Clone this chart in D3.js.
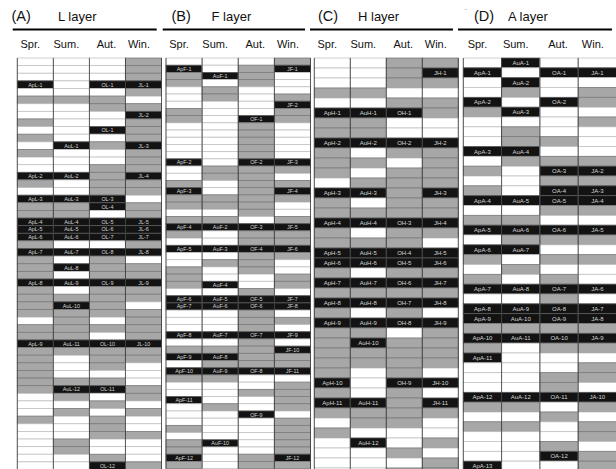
<!DOCTYPE html>
<html><head><meta charset="utf-8">
<script src="https://cdn.jsdelivr.net/npm/d3@7"></script>
<style>body{margin:0;background:#fff}svg{display:block;font-family:"Liberation Sans",Arial,sans-serif}</style>
</head><body><svg id="c" width="616" height="469"></svg>
<script>
// ---------------- data ----------------
const panelTags = ["(A)", "(B)", "(C)", "(D)"];
const panelTitles = ["L layer", "F layer", "H layer", "A layer"];
const seasons = ["Spr.", "Sum.", "Aut.", "Win."];

// cell state per season column, top row first: W = white, G = grey, B = black (labelled)
const cellsL = [
  "WWWBWGWWGW" + "GWGWWBGWBG" + "GBBBGBGGGB" + "GGGGWGGBGG" + "GGGGWWWGWW" + "WWWW",
  "WWWWWGWWWW" + "WBWWWBWWBG" + "GBBBWBWBWB" + "WGBGGGGBGW" + "WWGBGWGWWW" + "GGWW",
  "WWWBWGGWWB" + "WGWWGGGGBB" + "WBBBWBGGGB" + "GGGGWGWBGG" + "GWGBWGWGGG" + "WWGB",
  "GGGBGWGBGG" + "GBGGGBGGWG" + "GBBBGBWGGB" + "GGWGGGGBGG" + "WWWGGWGWWG" + "WWWG"
];
const cellsF = [
  "WBGGWWWGGW" + "WWWWBWWGBG" + "GWGBGWBWWG" + "GGWBBWWWBW" + "GBWBGWWBWW" + "WGWGGBG",
  "WWBWGGWWWW" + "WWWWWGGWWG" + "GWGBWWBWGW" + "WBWBBWWWBW" + "GBGBGWWWGW" + "WWWBWWW",
  "WGGGWWWWBG" + "GGGGBGGGGG" + "GGWBGGBGGG" + "WWGBBGGGBG" + "GGGBWWGWWB" + "WWWWWGG",
  "GBWWWGBGGW" + "WWWWBGWGBG" + "WWGBGGBGWW" + "GGWBBWGWBW" + "BGGBWGGGGW" + "GGGGGBG"
];
const cellsH = [
  "WWWGWBGGBG" + "GGWBGGBGGB" + "BGBGBGBGGG" + "GGBGBGWGWW" + "WW",
  "WWWGWBGGBW" + "GWGBWGBWGB" + "BWBGBWBGBG" + "GWWWBGGWBW" + "WW",
  "GGGWGBWWBG" + "WGGGGGBGGB" + "BGBGBGBWGG" + "GGBGGGGWWG" + "WG",
  "GBGWGGWWBG" + "GGGBGGBGWB" + "BGBGBWBGGG" + "GWBWBGWWGW" + "GG"
];
const cellsA = [
  "WBWWBGWWWB" + "WGWGBWGBWB" + "GWGBWBBGBG" + "BWWWBGWGWW" + "WB",
  "BWBGWBWGGB" + "GWWWBWGBGB" + "WGWBWBBGBW" + "WWWWBGWGWW" + "WW",
  "WBWWBWWWGW" + "GBGBBGWBGW" + "GWGBGBBGBG" + "WWGGBWGWWG" + "BW",
  "WBWGGWGWWW" + "GBGBBGWBGW" + "GWWBWBBGBG" + "WGGWBGWGGW" + "GG"
];

// labels of the black cells, in column order top to bottom
const labelsL = [
  "ApL-1 ApL-2 ApL-3 ApL-4 ApL-5 ApL-6 ApL-7 ApL-8 ApL-9",
  "AuL-1 AuL-2 AuL-3 AuL-4 AuL-5 AuL-6 AuL-7 AuL-8 AuL-9 AuL-10 AuL-11 AuL-12",
  "OL-1 OL-1 OL-3 OL-4 OL-5 OL-6 OL-7 OL-8 OL-9 OL-10 OL-11 OL-12",
  "JL-1 JL-2 JL-3 JL-4 JL-5 JL-6 JL-7 JL-8 JL-9 JL-10"
];
const labelsF = [
  "ApF-1 ApF-2 ApF-3 ApF-4 ApF-5 ApF-6 ApF-7 ApF-8 ApF-9 ApF-10 ApF-11 ApF-12",
  "AuF-1 AuF-2 AuF-3 AuF-4 AuF-5 AuF-6 AuF-7 AuF-8 AuF-9 AuF-10",
  "OF-1 OF-2 OF-3 OF-4 OF-5 OF-6 OF-7 OF-8 OF-9",
  "JF-1 JF-2 JF-3 JF-4 JF-5 JF-6 JF-7 JF-8 JF-9 JF-10 JF-11 JF-12"
];
const labelsH = [
  "ApH-1 ApH-2 ApH-3 ApH-4 ApH-5 ApH-6 ApH-7 ApH-8 ApH-9 ApH-10 ApH-11",
  "AuH-1 AuH-2 AuH-3 AuH-4 AuH-5 AuH-6 AuH-7 AuH-8 AuH-9 AuH-10 AuH-11 AuH-12",
  "OH-1 OH-2 OH-3 OH-4 OH-5 OH-6 OH-7 OH-8 OH-9",
  "JH-1 JH-2 JH-3 JH-4 JH-5 JH-6 JH-7 JH-8 JH-9 JH-10 JH-11"
];
const labelsA = [
  "ApA-1 ApA-2 ApA-3 ApA-4 ApA-5 ApA-6 ApA-7 ApA-8 ApA-9 ApA-10 ApA-11 ApA-12 ApA-13",
  "AuA-1 AuA-2 AuA-3 AuA-4 AuA-5 AuA-6 AuA-7 AuA-8 AuA-9 AuA-10 AuA-11 AuA-12",
  "OA-1 OA-2 OA-3 OA-4 OA-5 OA-6 OA-7 OA-8 OA-9 OA-10 OA-11 OA-12",
  "JA-1 JA-2 JA-3 JA-4 JA-5 JA-6 JA-7 JA-8 JA-9 JA-10"
];

// ---------------- layout ----------------
const panelCells = [cellsL, cellsF, cellsH, cellsA];
const panelLabels = [labelsL, labelsF, labelsH, labelsA];
const gridX0 = [17.3, 166, 314.3, 463.3];
const gridX1 = [161.5, 310.5, 458.3, 616.5];
const gridTop = 58;
const gridBottom = [469.5, 468.6, 478, 471];
const ruleX0 = [12.7, 162.7, 310, 458];
const ruleX1 = [156.7, 305, 453, 612];
const tagX = [11.5, 171.5, 318, 474];
const titleX = [58, 211.5, 358, 508];
const labelSize = [5.4, 5.4, 6, 6];
const headerShift = [-5, -5, -1, -4.5];

const svg = d3.select("#c");
const fill = d3.scaleOrdinal().domain(["W", "G", "B"]).range(["#ffffff", "#a7a7a7", "#131313"]);
const edge = d3.scaleOrdinal().domain(["W", "G", "B"]).range(["#c2c2c2", "#7c7c7c", "#5a5a5a"]);

panelCells.forEach((cols, p) => {
  const n = cols[0].length;
  const x = d3.scaleBand().domain(seasons).range([gridX0[p], gridX1[p]]);
  const y = d3.scaleBand().domain(d3.range(n)).range([gridTop, gridBottom[p]]);
  const cells = [];
  cols.forEach((str, c) => {
    const labs = panelLabels[p][c].split(" ");
    let k = 0;
    str.split("").forEach((s, r) => {
      cells.push({season: seasons[c], row: r, state: s, label: s === "B" ? labs[k++] : null});
    });
  });
  const g = svg.append("g");
  g.selectAll("rect.cell").data(cells).join("rect")
    .attr("class", "cell")
    .attr("x", d => x(d.season)).attr("y", d => y(d.row))
    .attr("width", x.bandwidth()).attr("height", y.bandwidth())
    .attr("fill", d => fill(d.state))
    .attr("stroke", d => edge(d.state)).attr("stroke-width", 0.8);
  g.selectAll("text.lab").data(cells.filter(d => d.label)).join("text")
    .attr("class", "lab")
    .attr("x", d => x(d.season) + x.bandwidth() / 2)
    .attr("y", d => y(d.row) + y.bandwidth() / 2 + labelSize[p] * 0.36)
    .attr("text-anchor", "middle").attr("font-size", labelSize[p])
    .attr("fill", "#d6d6d6").text(d => d.label);
  // column separators
  const bounds = seasons.map(s => x(s)).concat([gridX1[p]]);
  g.selectAll("line.v").data(bounds).join("line")
    .attr("x1", d => d).attr("x2", d => d)
    .attr("y1", gridTop).attr("y2", gridBottom[p])
    .attr("stroke", "#3a3a3a").attr("stroke-width", 0.8);
  // heading
  g.append("line").attr("x1", ruleX0[p]).attr("x2", ruleX1[p])
    .attr("y1", 29.5).attr("y2", 29.5).attr("stroke", "#000").attr("stroke-width", 2);
  g.append("text").attr("x", tagX[p]).attr("y", 20.5).attr("font-size", 14.5).attr("fill", "#111").text(panelTags[p]);
  g.append("text").attr("x", titleX[p]).attr("y", 20.5).attr("font-size", 13).attr("fill", "#111").text(panelTitles[p]);
  g.selectAll("text.hd").data(seasons).join("text")
    .attr("class", "hd")
    .attr("x", (d, i) => x(d) + x.bandwidth() / 2 + headerShift[i])
    .attr("y", 47.5).attr("text-anchor", "middle").attr("font-size", 11).attr("fill", "#111")
    .text(d => d);
});
svg.append("text").attr("x", 464.5).attr("y", 12).attr("font-size", 8).attr("fill", "#555").text("·");
</script></body></html>
